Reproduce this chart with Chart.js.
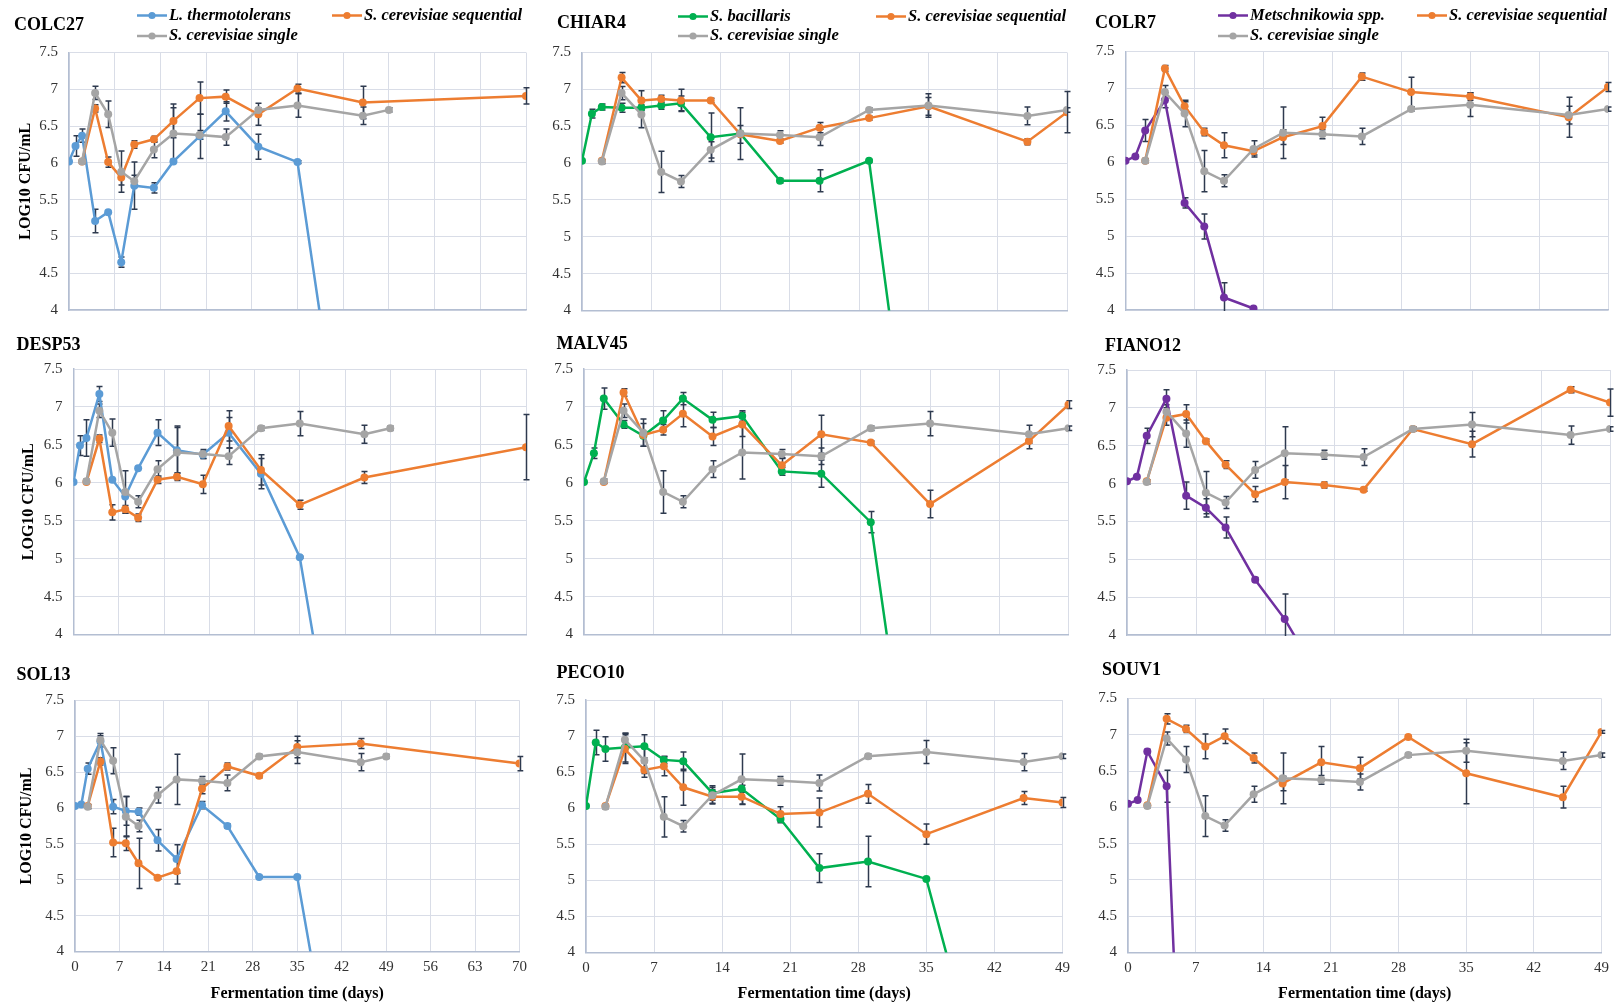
<!DOCTYPE html>
<html>
<head>
<meta charset="utf-8">
<script src="https://cdn.jsdelivr.net/npm/chart.js@4.4.1/dist/chart.umd.min.js"></script>
<style>
  html, body { margin: 0; padding: 0; background: #ffffff; }
  #fig { position: relative; width: 1616px; height: 1007px; overflow: hidden; background: #ffffff; }
</style>
</head>
<body>
<div id="fig"></div>
<script>
// ---- sampling days and axis ticks ----
const DAYS = [0, 1, 2, 4, 6, 8, 10, 13, 16, 20, 24, 29, 35, 45, 49, 70];
const X_TICKS_70 = [0, 7, 14, 21, 28, 35, 42, 49, 56, 63, 70];
const X_TICKS_49 = [0, 7, 14, 21, 28, 35, 42, 49];
const Y_TICKS = [4, 4.5, 5, 5.5, 6, 6.5, 7, 7.5];
const Y_TICK_LABELS = ['4', '4.5', '5', '5.5', '6', '6.5', '7', '7.5'];

// ---- names ----
const WINES = ['COLC27', 'CHIAR4', 'COLR7', 'DESP53', 'MALV45', 'FIANO12', 'SOL13', 'PECO10', 'SOUV1'];
const NS_NAMES = ['L. thermotolerans', 'S. bacillaris', 'Metschnikowia spp.'];
const SEQ_NAME = 'S. cerevisiae sequential';
const SINGLE_NAME = 'S. cerevisiae single';
const Y_TITLE = 'LOG10 CFU/mL';
const X_TITLE = 'Fermentation time (days)';

// ---- log10 CFU/mL, one value per sampling day (null = not sampled) ----
// S. cerevisiae single inoculum (same control in every panel)
const SINGLE    = [null, null, 6.02, 6.95, 6.66, 5.88, 5.75, 6.18, 6.40, 6.38, 6.35, 6.72, 6.78, 6.64, 6.72, null];
const SINGLE_SD = [null, null, 0.03, 0.09, 0.18, 0.28, 0.08, 0.11, 0.35, 0.06, 0.11, 0.03, 0.16, 0.12, 0.03, null];

// COLC27
const LT_COLC27     = [6.02, 6.23, 6.37, 5.21, 5.33, 4.65, 5.69, 5.66, 6.02, 6.36, 6.70, 6.22, 6.01, 0, null, null];
const LT_COLC27_SD  = [null, 0.14, 0.09, 0.16, null, 0.07, 0.32, 0.07, null, 0.30, 0.13, 0.17, 0.02, null, null, null];
const SEQ_COLC27    = [null, null, 6.02, 6.74, 6.01, 5.80, 6.25, 6.32, 6.57, 6.88, 6.90, 6.66, 7.01, 6.82, null, 6.91];
const SEQ_COLC27_SD = [null, null, null, 0.05, 0.07, 0.10, 0.05, 0.04, 0.23, 0.22, 0.09, 0.15, 0.06, 0.22, null, 0.11];

// CHIAR4
const SB_CHIAR4     = [6.03, 6.67, 6.76, 6.75, 6.75, 6.78, 6.81, 6.35, 6.40, 5.76, 5.76, 6.03, 0, null, null, null];
const SB_CHIAR4_SD  = [null, 0.06, 0.04, 0.06, 0.04, 0.05, 0.10, 0.33, null, 0.03, 0.15, 0.02, null, null, null, null];
const SEQ_CHIAR4    = [null, null, 6.03, 7.16, 6.85, 6.87, 6.85, 6.85, 6.39, 6.30, 6.48, 6.61, 6.77, 6.29, 6.69, null];
const SEQ_CHIAR4_SD = [null, null, null, 0.07, 0.13, 0.05, 0.15, 0.03, 0.12, 0.03, 0.07, 0.03, 0.12, 0.04, 0.28, null];

// COLR7
const MET_COLR7     = [6.02, 6.08, 6.43, 6.84, 5.45, 5.13, 4.17, 4.02, null, null, null, null, null, null, null, null];
const MET_COLR7_SD  = [null, 0.02, 0.15, 0.10, 0.07, 0.17, 0.20, null, null, null, null, null, null, null, null, null];
const SEQ_COLR7     = [null, null, 6.02, 7.27, 6.76, 6.41, 6.23, 6.15, 6.34, 6.49, 7.16, 6.95, 6.89, 6.61, 7.02, null];
const SEQ_COLR7_SD  = [null, null, null, 0.04, 0.06, 0.05, 0.17, 0.05, 0.10, 0.12, 0.05, 0.20, 0.05, 0.27, 0.06, null];

// DESP53
const LT_DESP53     = [6.01, 6.49, 6.59, 7.17, 6.04, 5.82, 6.19, 6.66, 6.43, 6.37, 6.66, 6.12, 5.02, 0, null, null];
const LT_DESP53_SD  = [null, 0.13, 0.24, 0.10, null, null, null, 0.17, 0.30, 0.05, 0.20, 0.20, 0.01, null, null, null];
const SEQ_DESP53    = [null, null, 6.01, 6.58, 5.61, 5.65, 5.54, 6.04, 6.08, 5.98, 6.75, 6.17, 5.71, 6.07, null, 6.47];
const SEQ_DESP53_SD = [null, null, null, 0.05, 0.10, 0.05, 0.05, 0.05, 0.05, 0.12, 0.20, 0.20, 0.06, 0.08, null, 0.43];

// MALV45
const SB_MALV45     = [6.01, 6.39, 7.11, 6.77, 6.62, 6.82, 7.11, 6.83, 6.88, 6.15, 6.12, 5.48, 0, null, null, null];
const SB_MALV45_SD  = [null, 0.07, 0.14, 0.05, null, 0.13, 0.08, 0.10, 0.07, 0.05, 0.18, 0.14, null, null, null, null];
const SEQ_MALV45    = [null, null, 6.01, 7.19, 6.63, 6.70, 6.91, 6.61, 6.77, 6.23, 6.64, 6.53, 5.72, 6.55, 7.03, null];
const SEQ_MALV45_SD = [null, null, null, 0.05, 0.15, 0.07, 0.17, 0.12, 0.16, 0.10, 0.25, 0.02, 0.18, 0.10, 0.05, null];

// FIANO12
const MET_FIANO12     = [6.03, 6.09, 6.63, 7.12, 5.84, 5.68, 5.42, 4.73, 4.21, null, null, null, 0, null, null, null];
const MET_FIANO12_SD  = [null, null, 0.10, 0.12, 0.18, 0.12, 0.14, 0.03, 0.33, null, null, null, null, null, null, null];
const SEQ_FIANO12     = [null, null, 6.03, 6.87, 6.92, 6.56, 6.25, 5.86, 6.02, 5.98, 5.92, 6.72, 6.52, 7.24, 7.07, null];
const SEQ_FIANO12_SD  = [null, null, null, 0.10, 0.12, 0.03, 0.05, 0.10, 0.22, 0.04, 0.02, 0.02, 0.17, 0.04, 0.18, null];

// SOL13
const LT_SOL13      = [6.03, 6.05, 6.55, 6.93, 6.02, 5.96, 5.95, 5.55, 5.29, 6.04, 5.75, 5.04, 5.04, 0, null, null];
const LT_SOL13_SD   = [null, null, 0.08, 0.08, 0.10, 0.20, 0.05, 0.15, 0.20, 0.05, 0.03, 0.02, 0.01, null, null, null];
const SEQ_SOL13     = [null, null, 6.03, 6.65, 5.52, 5.51, 5.23, 5.03, 5.12, 6.27, 6.58, 6.45, 6.85, 6.90, null, 6.62];
const SEQ_SOL13_SD  = [null, null, null, 0.05, 0.20, 0.10, 0.35, 0.02, 0.18, 0.07, 0.05, 0.03, 0.15, 0.07, null, 0.10];

// PECO10
const SB_PECO10     = [6.03, 6.91, 6.82, 6.84, 6.86, 6.67, 6.65, 6.21, 6.27, 5.85, 5.17, 5.26, 5.02, 0, null, null];
const SB_PECO10_SD  = [null, 0.17, 0.17, 0.20, 0.16, 0.05, 0.13, 0.10, 0.05, 0.05, 0.20, 0.35, 0.01, null, null, null];
const SEQ_PECO10    = [null, null, 6.03, 6.82, 6.53, 6.58, 6.29, 6.16, 6.16, 5.92, 5.94, 6.20, 5.64, 6.14, 6.08, null];
const SEQ_PECO10_SD = [null, null, null, 0.20, 0.10, 0.13, 0.25, 0.10, 0.10, 0.10, 0.20, 0.13, 0.14, 0.09, 0.07, null];

// SOUV1
const MET_SOUV1     = [6.05, 6.10, 6.77, 6.29, 0, null, null, null, null, null, null, null, null, null, null, null];
const MET_SOUV1_SD  = [null, null, 0.03, 0.22, null, null, null, null, null, null, null, null, null, null, null, null];
const SEQ_SOUV1     = [null, null, 6.03, 7.22, 7.08, 6.84, 6.98, 6.68, 6.33, 6.62, 6.54, 6.97, 6.47, 6.14, 7.04, null];
const SEQ_SOUV1_SD  = [null, null, null, 0.07, 0.05, 0.17, 0.10, 0.07, 0.10, 0.22, 0.15, 0.02, 0.42, 0.15, 0.02, null];

// ---- panel contents (grid order, left to right, top to bottom) ----
const PANELS = [
  { wine: 0, ns: 0, nsVals: LT_COLC27,   nsSd: LT_COLC27_SD,   seq: SEQ_COLC27,  seqSd: SEQ_COLC27_SD,  xTicks: X_TICKS_70 },
  { wine: 1, ns: 1, nsVals: SB_CHIAR4,   nsSd: SB_CHIAR4_SD,   seq: SEQ_CHIAR4,  seqSd: SEQ_CHIAR4_SD,  xTicks: X_TICKS_49 },
  { wine: 2, ns: 2, nsVals: MET_COLR7,   nsSd: MET_COLR7_SD,   seq: SEQ_COLR7,   seqSd: SEQ_COLR7_SD,   xTicks: X_TICKS_49 },
  { wine: 3, ns: 0, nsVals: LT_DESP53,   nsSd: LT_DESP53_SD,   seq: SEQ_DESP53,  seqSd: SEQ_DESP53_SD,  xTicks: X_TICKS_70 },
  { wine: 4, ns: 1, nsVals: SB_MALV45,   nsSd: SB_MALV45_SD,   seq: SEQ_MALV45,  seqSd: SEQ_MALV45_SD,  xTicks: X_TICKS_49 },
  { wine: 5, ns: 2, nsVals: MET_FIANO12, nsSd: MET_FIANO12_SD, seq: SEQ_FIANO12, seqSd: SEQ_FIANO12_SD, xTicks: X_TICKS_49 },
  { wine: 6, ns: 0, nsVals: LT_SOL13,    nsSd: LT_SOL13_SD,    seq: SEQ_SOL13,   seqSd: SEQ_SOL13_SD,   xTicks: X_TICKS_70 },
  { wine: 7, ns: 1, nsVals: SB_PECO10,   nsSd: SB_PECO10_SD,   seq: SEQ_PECO10,  seqSd: SEQ_PECO10_SD,  xTicks: X_TICKS_49 },
  { wine: 8, ns: 2, nsVals: MET_SOUV1,   nsSd: MET_SOUV1_SD,   seq: SEQ_SOUV1,   seqSd: SEQ_SOUV1_SD,   xTicks: X_TICKS_49 }
];

// ---- page layout: canvas box, plot rectangle, title and key anchors (page pixels) ----
// Canvases are transparent and may overlap; each keeps at least ~25px below its plot.
const LAYOUT = [
  { box: [0, 0, 540, 340],      plot: [69, 52.5, 526, 310],       title: [14, 25],     key: [[137, 15.5], [332, 15.5], [137, 36]],    yTitlePad: 16.4 },
  { box: [540, 0, 540, 340],    plot: [582, 52.5, 1067, 310.5],   title: [557, 23.5],  key: [[678, 16.5], [876, 16.5], [678, 36]] },
  { box: [1080, 0, 536, 340],   plot: [1125.5, 51.5, 1608, 310],  title: [1095, 23.5], key: [[1218, 15.5], [1417, 15.5], [1218, 36]] },
  { box: [0, 322, 540, 345],    plot: [73.5, 369, 526, 634.5],    title: [16.5, 345],  yTitlePad: 19.4 },
  { box: [540, 322, 540, 345],  plot: [584, 369, 1068.5, 634.5],  title: [556.5, 344] },
  { box: [1080, 322, 536, 345], plot: [1127, 370, 1610, 635],     title: [1105, 346.5] },
  { box: [0, 645, 540, 362],    plot: [75, 700.5, 519.5, 951.5],  title: [16.5, 675],  yTitlePad: 17.4, xTitle: true },
  { box: [540, 645, 540, 362],  plot: [586, 700, 1062.5, 952.5],  title: [556.5, 673.5], xTitle: true },
  { box: [1080, 645, 536, 362], plot: [1128, 698.5, 1605, 952.5], title: [1102, 670],  xTitle: true }
];

// ---- styles ----
const NS_COLORS = ['#5b9bd5', '#00b050', '#7030a0'];
const SEQ_COLOR = '#ed7d31';
const SINGLE_COLOR = '#a5a5a5';
const GRID_COLOR = '#d9dde7';
const AXIS_COLOR = '#b3bed2';
const ERR_COLOR = '#2e3a4f';
const SERIF = '"Liberation Serif", "Times New Roman", serif';

// error bars (mean ± SD), drawn beneath the series lines
const errorBars = {
  id: 'errorBars',
  beforeDatasetsDraw(chart) {
    const { ctx, chartArea: a, scales: { x, y } } = chart;
    ctx.save();
    ctx.beginPath();
    ctx.rect(a.left - 4, a.top - 1, a.right - a.left + 8, a.bottom - a.top + 2);
    ctx.clip();
    ctx.strokeStyle = ERR_COLOR;
    ctx.lineWidth = 1.5;
    chart.data.datasets.forEach(ds => {
      ds.data.forEach(p => {
        if (p.sd == null || p.y < y.min) return;
        const px = Math.round(x.getPixelForValue(p.x)) + 0.5;
        const top = y.getPixelForValue(p.y + p.sd);
        const bot = y.getPixelForValue(p.y - p.sd);
        ctx.beginPath();
        ctx.moveTo(px, top); ctx.lineTo(px, bot);
        ctx.moveTo(px - 3, top); ctx.lineTo(px + 3, top);
        ctx.moveTo(px - 3, bot); ctx.lineTo(px + 3, bot);
        ctx.stroke();
      });
    });
    ctx.restore();
  }
};

// wine name and series key
const panelText = {
  id: 'panelText',
  afterDraw(chart, args, opts) {
    const ctx = chart.ctx;
    ctx.save();
    ctx.textBaseline = 'middle';
    ctx.textAlign = 'left';
    ctx.fillStyle = '#000000';
    ctx.font = 'bold 18px ' + SERIF;
    ctx.fillText(opts.title, opts.titleAt[0], opts.titleAt[1]);
    if (opts.key) {
      ctx.font = 'italic bold 16.5px ' + SERIF;
      chart.data.datasets.forEach((ds, i) => {
        const [kx, ky] = opts.key[i];
        ctx.strokeStyle = ds.borderColor;
        ctx.lineWidth = 2.5;
        ctx.beginPath();
        ctx.moveTo(kx, ky); ctx.lineTo(kx + 30, ky);
        ctx.stroke();
        ctx.fillStyle = ds.borderColor;
        ctx.beginPath();
        ctx.arc(kx + 15, ky, 3.6, 0, Math.PI * 2);
        ctx.fill();
        ctx.fillStyle = '#000000';
        ctx.fillText(ds.label, kx + 32, ky);
      });
    }
    ctx.restore();
  }
};

function points(vals, sds) {
  return DAYS.map((d, i) => (vals[i] == null ? null : { x: d, y: vals[i], sd: sds[i] }))
             .filter(p => p !== null);
}

function series(label, vals, sds, color, order) {
  return {
    label, order,
    data: points(vals, sds),
    borderColor: color,
    backgroundColor: color,
    pointBackgroundColor: color,
    pointBorderColor: color,
    pointBorderWidth: 0,
    pointRadius: 4,
    borderWidth: 2.5,
    tension: 0,
    fill: false
  };
}

const fig = document.getElementById('fig');

PANELS.forEach((p, k) => {
  const lay = LAYOUT[k];
  const [bx, by, bw, bh] = lay.box;
  const [pl, pt, pr, pb] = lay.plot;

  const cv = document.createElement('canvas');
  cv.width = bw; cv.height = bh;
  cv.style.cssText = `position:absolute;left:${bx}px;top:${by}px;width:${bw}px;height:${bh}px;`;
  fig.appendChild(cv);

  const xTicks = p.xTicks;
  const tickFont = { family: SERIF, size: 15 };
  const showX = !!lay.xTitle;
  const showYTitle = lay.yTitlePad != null;

  new Chart(cv, {
    type: 'line',
    data: {
      datasets: [
        series(NS_NAMES[p.ns], p.nsVals, p.nsSd, NS_COLORS[p.ns], 3),
        series(SEQ_NAME, p.seq, p.seqSd, SEQ_COLOR, 2),
        series(SINGLE_NAME, SINGLE, SINGLE_SD, SINGLE_COLOR, 1)
      ]
    },
    options: {
      responsive: false,
      animation: false,
      events: [],
      layout: { padding: { left: 0, top: pt - by, right: bx + bw - pr, bottom: 0 } },
      plugins: {
        legend: { display: false },
        tooltip: { enabled: false },
        panelText: {
          title: WINES[p.wine],
          titleAt: [lay.title[0] - bx, lay.title[1] - by],
          key: lay.key ? lay.key.map(([x, y]) => [x - bx, y - by]) : null
        }
      },
      scales: {
        x: {
          type: 'linear',
          min: xTicks[0],
          max: xTicks[xTicks.length - 1],
          afterBuildTicks: s => { s.ticks = xTicks.map(v => ({ value: v })); },
          afterFit: s => { s.height = by + bh - pb; },
          grid: { color: GRID_COLOR, lineWidth: 1, drawTicks: false },
          border: { color: AXIS_COLOR, width: 1.5 },
          ticks: {
            display: showX, padding: 7, font: tickFont, color: '#333333',
            callback: v => String(xTicks[xTicks.indexOf(v)])
          },
          title: {
            display: showX, text: X_TITLE, color: '#000000',
            font: { family: SERIF, size: 16, weight: 'bold' },
            padding: { top: 0, bottom: 3.4 }
          }
        },
        y: {
          type: 'linear',
          min: Y_TICKS[0],
          max: Y_TICKS[Y_TICKS.length - 1],
          afterBuildTicks: s => { s.ticks = Y_TICKS.map(v => ({ value: v })); },
          afterFit: s => { s.width = pl - bx; },
          grid: { color: GRID_COLOR, lineWidth: 1, drawTicks: false },
          border: { color: AXIS_COLOR, width: 1.5 },
          ticks: {
            padding: 11, font: tickFont, color: '#333333',
            callback: v => Y_TICK_LABELS[Y_TICKS.indexOf(v)]
          },
          title: {
            display: showYTitle, text: Y_TITLE, color: '#000000',
            font: { family: SERIF, size: 16, weight: 'bold' },
            padding: { top: showYTitle ? lay.yTitlePad : 0, bottom: 0 }
          }
        }
      }
    },
    plugins: [errorBars, panelText]
  });
});
</script>
</body>
</html>
